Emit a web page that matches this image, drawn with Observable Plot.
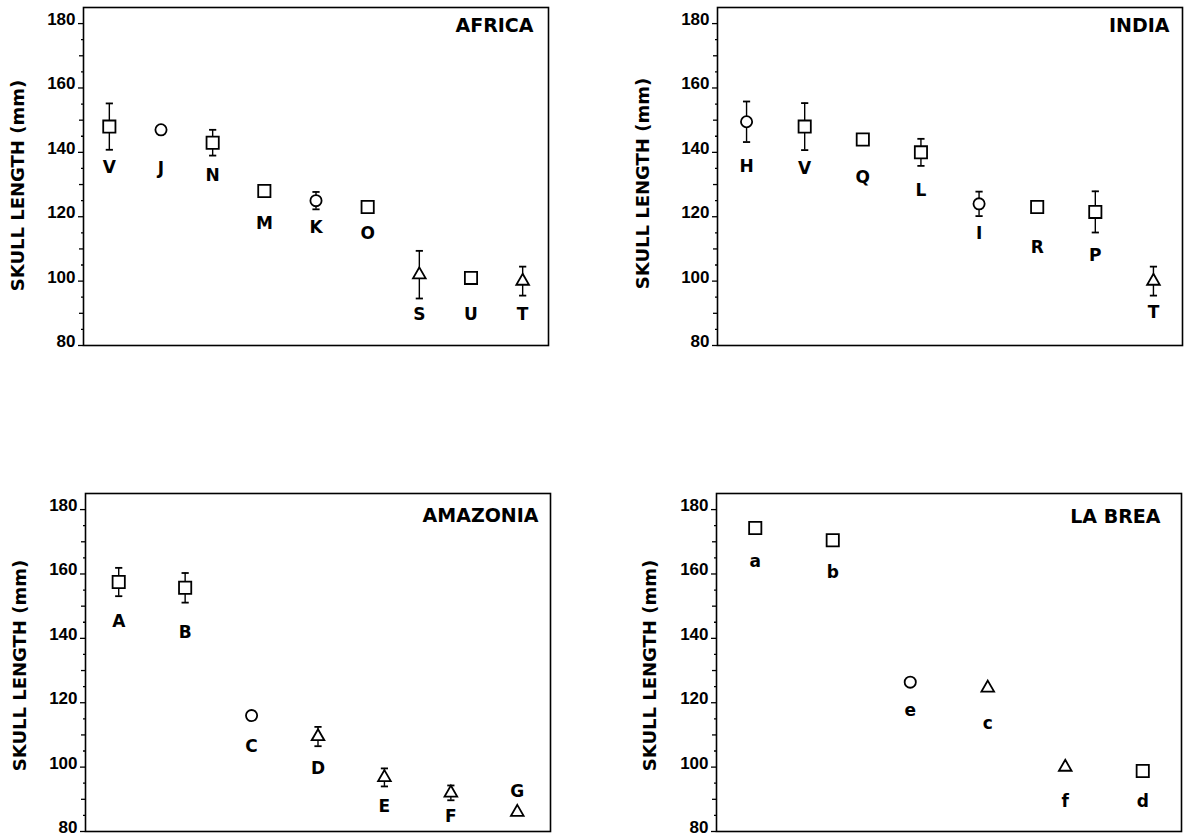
<!DOCTYPE html>
<html>
<head>
<meta charset="utf-8">
<script src="https://cdn.jsdelivr.net/npm/d3@7"></script>
<script src="https://cdn.jsdelivr.net/npm/@observablehq/plot@0.6"></script>
<style>
  html, body { margin: 0; padding: 0; background: #fff; }
  #wrap { position: relative; width: 1186px; height: 837px; overflow: hidden; background: #fff; }
  #wrap > svg { position: absolute; overflow: visible; }
  g[aria-label="y-axis tick label"] {
    font-family: 'Liberation Sans', Arial, sans-serif !important;
    font-size: 17px !important;
    font-weight: bold !important;
  }
</style>
</head>
<body>
<div id="wrap"></div>
<script>
// ---- Data ----
const yAxisTitle = "SKULL LENGTH (mm)";
const yTickLabels = [80, 100, 120, 140, 160, 180];

const africaTitle = "AFRICA";
const africaSites = ["V", "J", "N", "M", "K", "O", "S", "U", "T"];
const africaMean  = [148, 147, 143, 128, 125, 123, 102, 101, 100];
const africaErr   = [7.2, 0, 4, 0, 2.7, 0, 7.4, 0, 4.5];
const africaShape = ["square", "circle", "square", "square", "circle", "square", "triangle", "square", "triangle"];
const africaLabelAt = [135.3, 135, 132.8, 117.8, 116.6, 114.7, 89.7, 89.7, 89.7];

const indiaTitle = "INDIA";
const indiaSites = ["H", "V", "Q", "L", "I", "R", "P", "T"];
const indiaMean  = [149.5, 148, 144, 140, 124, 123, 121.5, 100];
const indiaErr   = [6.3, 7.3, 0, 4.2, 3.8, 0, 6.4, 4.5];
const indiaShape = ["circle", "square", "square", "square", "circle", "square", "square", "triangle"];
const indiaLabelAt = [135.6, 135, 132.2, 128.2, 114.7, 110.5, 107.9, 90.2];

const amazoniaTitle = "AMAZONIA";
const amazoniaSites = ["A", "B", "C", "D", "E", "F", "G"];
const amazoniaMean  = [157.5, 155.7, 116, 109.5, 96.8, 92, 86];
const amazoniaErr   = [4.4, 4.6, 0, 3, 2.8, 2.3, 0];
const amazoniaShape = ["square", "square", "circle", "triangle", "triangle", "triangle", "triangle"];
const amazoniaLabelAt = [145.3, 141.7, 106.5, 99.5, 87.7, 84.6, 92.3];

const labreaTitle = "LA BREA";
const labreaSites = ["a", "b", "e", "c", "f", "d"];
const labreaMean  = [174.3, 170.5, 126.4, 124.6, 100, 98.8];
const labreaErr   = [0, 0, 0, 0, 0, 0];
const labreaShape = ["square", "square", "circle", "triangle", "triangle", "square"];
const labreaLabelAt = [163.9, 160.4, 117.7, 113.5, 89.4, 89.4];

// ---- Drawing ----
const BOLD = "'DejaVu Sans', 'Liberation Sans', Arial, sans-serif";
const capSymbol = {
  draw(ctx, size) {
    const w = Math.sqrt(size / Math.PI);
    ctx.moveTo(-w, 0);
    ctx.lineTo(w, 0);
  }
};
const radius = { square: 6.9, circle: 5.6, triangle: 4.7 };

function panel(cfg) {
  const data = cfg.sites.map((s, i) => ({
    site: s, i: i + 1, mean: cfg.mean[i], err: cfg.err[i], shape: cfg.shape[i], at: cfg.labelAt[i]
  }));
  const bars = data.filter(d => d.err > 0);
  const n = data.length;
  const dotMarks = ["square", "circle", "triangle"].map(sh =>
    Plot.dot(data.filter(d => d.shape === sh), {
      x: "i", y: "mean", symbol: sh, r: radius[sh],
      fill: "white", stroke: "black", strokeWidth: 1.8
    })
  );
  const svg = Plot.plot({
    width: 549, height: 349,
    marginLeft: 80, marginRight: 4, marginTop: 7, marginBottom: 4,
    x: { domain: [0.5, n + 0.5], axis: null },
    y: { domain: [80, 185], axis: null },
    style: { background: "white", color: "black", overflow: "visible" },
    marks: [
      // labelled (major) ticks
      Plot.axisY({ ticks: yTickLabels, tickSize: 5, tickFormat: () => "", label: null, strokeWidth: 1.3 }),
      // tick labels, sitting slightly above their ticks as in the original
      Plot.axisY({ ticks: yTickLabels, tickSize: 0, tickPadding: 8, label: null, dy: -4,
        fontSize: 17, fontFamily: "Liberation Sans", fontWeight: "bold" }),
      Plot.axisY({ ticks: d3.range(90, 181, 20), tickSize: 4, tickFormat: () => "", label: null, strokeWidth: 1.3 }),
      Plot.axisY({ ticks: d3.range(85, 181, 10), tickSize: 2, tickFormat: () => "", label: null, strokeWidth: 1.3 }),
      Plot.frame({ stroke: "black", strokeWidth: 1.6 }),
      Plot.ruleX(bars, { x: "i", y1: d => d.mean - d.err, y2: d => d.mean + d.err, stroke: "black", strokeWidth: 1.4 }),
      Plot.dot(bars, { x: "i", y: d => d.mean - d.err, symbol: capSymbol, r: 3.6, stroke: "black", fill: "none", strokeWidth: 1.8 }),
      Plot.dot(bars, { x: "i", y: d => d.mean + d.err, symbol: capSymbol, r: 3.6, stroke: "black", fill: "none", strokeWidth: 1.8 }),
      ...dotMarks,
      Plot.text(data, { x: "i", y: "at", text: "site", fontSize: 17, fontWeight: "bold", fontFamily: BOLD, fill: "black" }),
      Plot.text([cfg.title], { frameAnchor: "top-right", dx: -cfg.tx, dy: cfg.ty, textAnchor: "end", lineAnchor: "middle",
        fontSize: 19, fontWeight: "bold", fontFamily: BOLD, fill: "black" }),
      Plot.text([yAxisTitle], { frameAnchor: "left", textAnchor: "middle", lineAnchor: "middle", rotate: -90,
        dx: -cfg.lo, dy: cfg.ly, fontSize: 18, fontWeight: "bold", fontFamily: BOLD, fill: "black" })
    ]
  });
  svg.style.left = cfg.left + "px";
  svg.style.top = cfg.top + "px";
  svg.style.position = "absolute";
  svg.style.overflow = "visible";
  return svg;
}

const wrap = document.getElementById("wrap");
wrap.appendChild(panel({ title: africaTitle, sites: africaSites, mean: africaMean, err: africaErr, shape: africaShape,
  labelAt: africaLabelAt, left: 3, top: 0, tx: 15, ty: 18, lo: 65, ly: 9 }));
wrap.appendChild(panel({ title: indiaTitle, sites: indiaSites, mean: indiaMean, err: indiaErr, shape: indiaShape,
  labelAt: indiaLabelAt, left: 637, top: 0, tx: 13, ty: 18, lo: 74, ly: 7 }));
wrap.appendChild(panel({ title: amazoniaTitle, sites: amazoniaSites, mean: amazoniaMean, err: amazoniaErr, shape: amazoniaShape,
  labelAt: amazoniaLabelAt, left: 5, top: 486, tx: 12, ty: 22, lo: 65, ly: 3 }));
wrap.appendChild(panel({ title: labreaTitle, sites: labreaSites, mean: labreaMean, err: labreaErr, shape: labreaShape,
  labelAt: labreaLabelAt, left: 636, top: 486, tx: 21, ty: 23, lo: 66, ly: 3 }));
</script>
</body>
</html>
